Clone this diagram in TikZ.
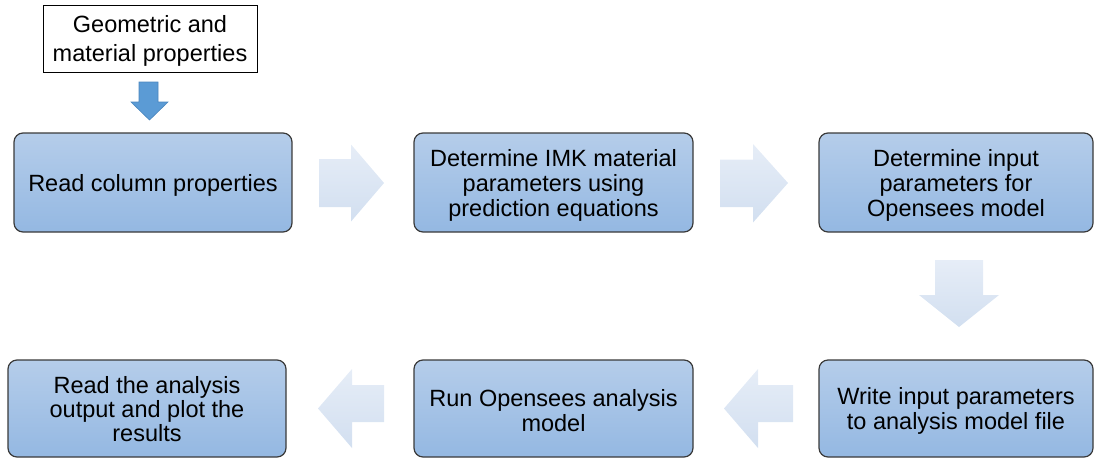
\documentclass[tikz,border=0pt]{standalone}
\usepackage{fontspec}
\setmainfont{Liberation Sans}
\definecolor{boxtop}{HTML}{B5CDEA}
\definecolor{boxbot}{HTML}{94B8E2}
\definecolor{boxline}{HTML}{3A3A3A}
\definecolor{flowtop}{HTML}{E6EDF7}
\definecolor{flowbot}{HTML}{D2DFF0}
\definecolor{inarrow}{HTML}{5B9BD5}
\definecolor{inarrowline}{HTML}{4A86BE}
\tikzset{
  stepbox/.style={draw=boxline, line width=1.2pt, rounded corners=9pt,
    top color=boxtop, bottom color=boxbot, inner sep=0pt},
  steptext/.style={align=center, inner sep=0pt, yshift=-2.5pt,
    font=\fontsize{23.5}{25}\selectfont},
  inputbox/.style={draw=black, line width=0.9pt, fill=white, inner sep=0pt},
  inputtext/.style={align=center, inner sep=0pt, yshift=-2pt,
    font=\fontsize{23.5}{29}\selectfont},
  flowarrow/.style={top color=flowtop, bottom color=flowbot, draw=none},
  feedarrow/.style={fill=inarrow, draw=inarrowline, line width=0.6pt}
}
\begin{document}
\begin{tikzpicture}[x=1pt, y=-1pt]
\useasboundingbox (0,0) rectangle (1094,458);

% input data box
\node[inputbox, minimum width=214pt, minimum height=67pt,
  label={[inputtext]center:{Geometric and\\material properties}}] (geo) at (150,38.5) {};

% process steps
\node[stepbox, minimum width=278pt, minimum height=99pt,
  label={[steptext]center:{Read column properties}}] (read) at (153,182.5) {};
\node[stepbox, minimum width=279pt, minimum height=99pt,
  label={[steptext]center:{Determine IMK material\\parameters using\\prediction equations}}]
  (imk) at (553.5,182.5) {};
\node[stepbox, minimum width=274pt, minimum height=99pt,
  label={[steptext]center:{Determine input\\parameters for\\Opensees model}}]
  (inp) at (956,182.5) {};
\node[stepbox, minimum width=274pt, minimum height=97pt,
  label={[steptext]center:{Write input parameters\\to analysis model file}}]
  (write) at (956,408.5) {};
\node[stepbox, minimum width=279pt, minimum height=97pt,
  label={[steptext]center:{Run Opensees analysis\\model}}]
  (run) at (553.5,408.5) {};
\node[stepbox, minimum width=278pt, minimum height=97pt,
  label={[steptext, yshift=2pt, font=\fontsize{23.5}{24}\selectfont]center:{Read the analysis\\output and plot the\\results}}]
  (plot) at (147,408.5) {};

% small arrow from input box to first step
\path[feedarrow] (139,82) -- (158,82) -- (158,102) -- (168,102) -- (149.5,120)
  -- (131,102) -- (139,102) -- cycle;

% block arrows between steps
\path[flowarrow] (319,159) -- (351,159) -- (351,144.5) -- (384,183)
  -- (351,221.5) -- (351,207) -- (319,207) -- cycle;
\path[flowarrow] (720,159.5) -- (753,159.5) -- (753,144) -- (788,183)
  -- (753,222.5) -- (753,207) -- (720,207) -- cycle;
\path[flowarrow] (935,260) -- (983,260) -- (983,295) -- (999,295) -- (959,327)
  -- (919,295) -- (935,295) -- cycle;
\path[flowarrow] (793,385) -- (758,385) -- (758,369) -- (724,408.5)
  -- (758,448) -- (758,422) -- (793,422) -- cycle;
\path[flowarrow] (384,385) -- (352,385) -- (352,369) -- (318,408.5)
  -- (352,448) -- (352,422) -- (384,422) -- cycle;
\end{tikzpicture}
\end{document}
